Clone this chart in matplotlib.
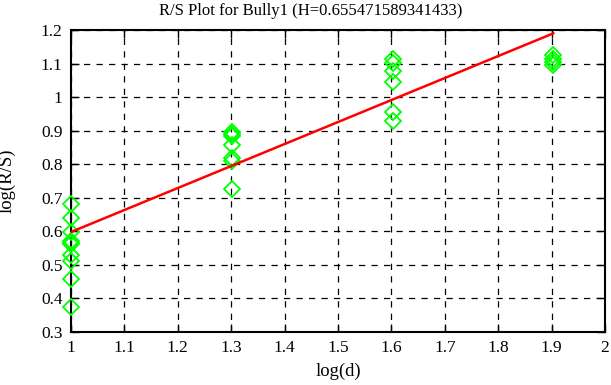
import matplotlib
matplotlib.use("Agg")
import matplotlib.pyplot as plt
import numpy as np

H = 0.655471589341433
intercept = 0.598
title = "R/S Plot for Bully1 (H=0.655471589341433)"

x_d1 = [1.0] * 10
y_d1 = [0.682, 0.639, 0.598, 0.570, 0.565, 0.561, 0.530, 0.513, 0.458, 0.374]
x_d2 = [1.30103] * 7
y_d2 = [0.895, 0.890, 0.885, 0.857, 0.820, 0.810, 0.727]
x_d3 = [1.60206] * 6
y_d3 = [1.113, 1.103, 1.078, 1.045, 0.955, 0.928]
x_d4 = [1.90309] * 4
y_d4 = [1.125, 1.115, 1.105, 1.095]

xs = x_d1 + x_d2 + x_d3 + x_d4
ys = y_d1 + y_d2 + y_d3 + y_d4
fit_x = [1.0, 1.90309]
fit_y = [intercept + H * (v - 1.0) for v in fit_x]

xticks = [1, 1.1, 1.2, 1.3, 1.4, 1.5, 1.6, 1.7, 1.8, 1.9, 2]
xticklabels = ["1", "1.1", "1.2", "1.3", "1.4", "1.5", "1.6", "1.7", "1.8", "1.9", "2"]
yticks = [0.3, 0.4, 0.5, 0.6, 0.7, 0.8, 0.9, 1.0, 1.1, 1.2]
yticklabels = ["0.3", "0.4", "0.5", "0.6", "0.7", "0.8", "0.9", "1", "1.1", "1.2"]

plt.rcParams['font.family'] = ['Liberation Serif', 'DejaVu Serif']

fig = plt.figure(figsize=(6.11, 3.85), dpi=100)
ax = fig.add_axes([71/611, 1 - 332/385, (605-71)/611, (332-30)/385])

ax.plot(xs, ys, linestyle='none', marker='D', markersize=8.5,
        markerfacecolor='none', markeredgecolor='#00ff00', markeredgewidth=1.3,
        zorder=3, clip_on=False)
ax.plot(fit_x, fit_y, color='#ff0000', linewidth=1.8, zorder=4)

ax.set_xlim(1, 2)
ax.set_ylim(0.3, 1.2)
ax.set_xticks(xticks)
ax.set_xticklabels(xticklabels)
ax.set_yticks(yticks)
ax.set_yticklabels(yticklabels)
ax.tick_params(direction='in', length=6, width=1, top=True, right=True,
               labelsize=12.5, pad=6, colors='black')
ax.grid(True, color='black', linestyle=(0, (5, 5)), linewidth=0.9)
for s in ax.spines.values():
    s.set_linewidth(1.5)
ax.set_xlabel("log(d)", fontsize=13.5)
ax.set_ylabel("log(R/S)", fontsize=13.5)
ax.xaxis.set_label_coords(0.5, -31/302)
ax.yaxis.set_label_coords(-55/534, 0.5)
fig.text(311/611, 1 - 11/385, title, fontsize=12, ha='center', va='center')

fig.savefig("out.png", dpi=100)
